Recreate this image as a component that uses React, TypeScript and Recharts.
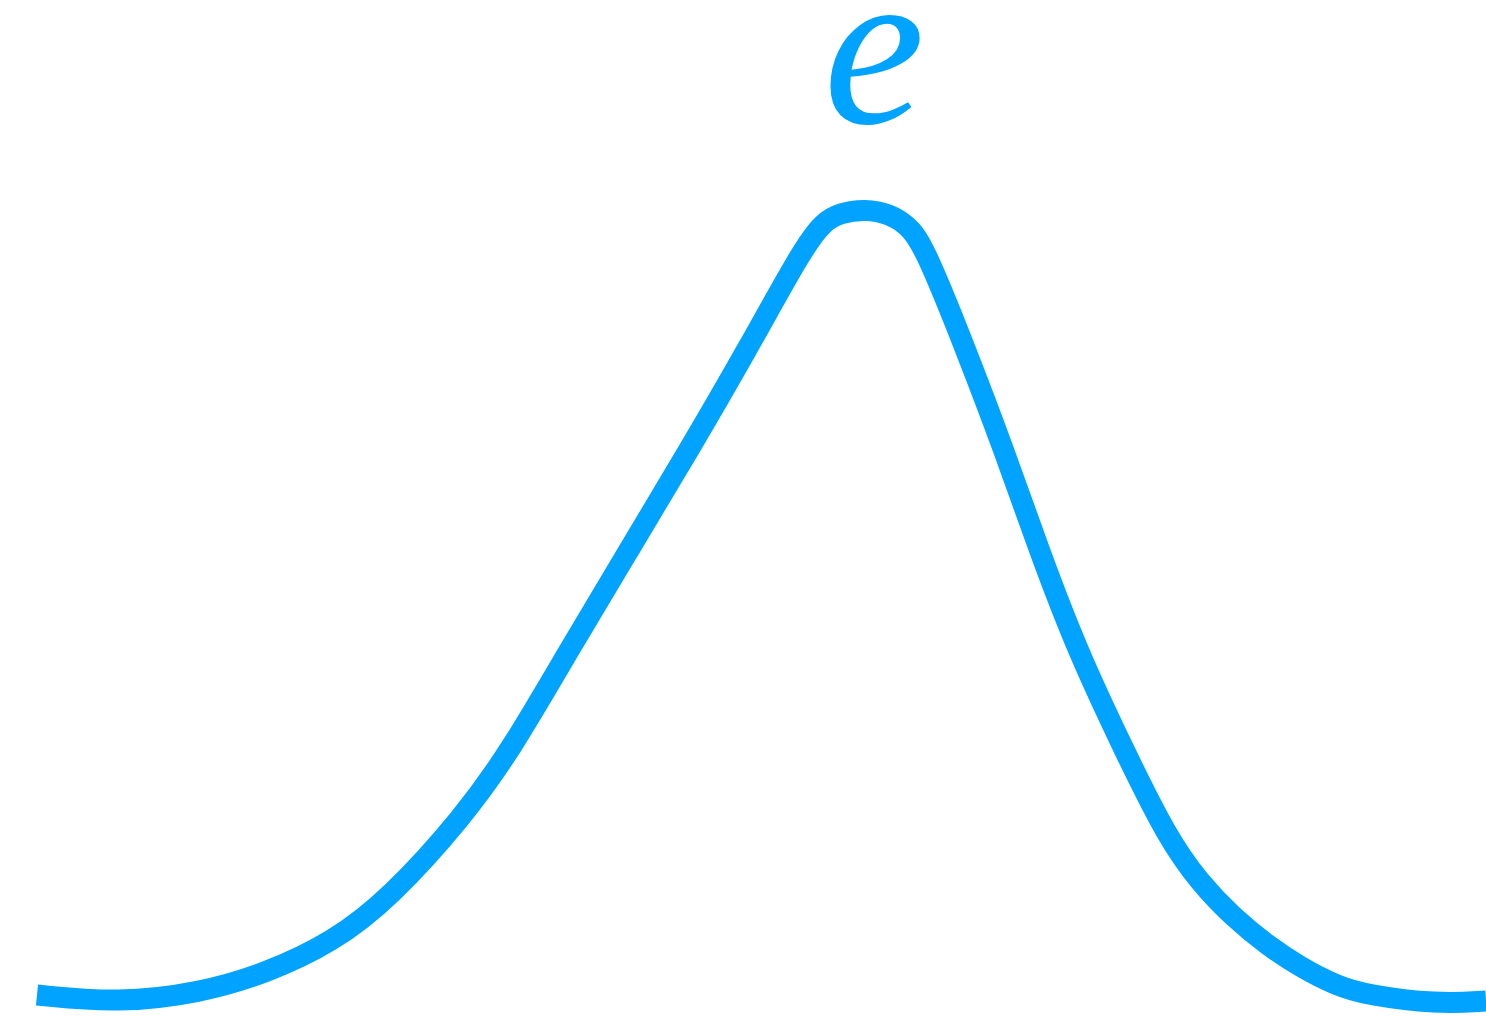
import { LineChart, Line, XAxis, YAxis } from 'recharts';

const WIDTH = 1486;
const HEIGHT = 1017;
const BLUE = '#00a3ff';

// Curve samples: horizontal position and height above the bottom edge
const xs = [37, 118, 200, 267, 333, 390, 463, 511, 569, 629, 689, 747, 802, 823, 840, 865, 890, 907, 923, 966, 1004, 1039, 1077, 1124, 1167, 1200, 1233, 1267, 1300, 1337, 1367, 1437, 1486];
const heights = [22, 14, 24, 44, 75, 119, 200, 267, 367, 467, 567, 667, 767, 795, 804, 808, 803, 792, 774, 667, 567, 467, 367, 267, 180, 134, 100, 72, 50, 31, 22, 13, 16];
const peakLabel = 'e';
const peakIndex = 15;

const data = xs.map((x, i) => ({ x, h: heights[i] }));

// Only the peak gets a marker: the italic letter above it
function PeakDot(props: any) {
  const { cx, cy, index } = props;
  if (index !== peakIndex) return <g key={`dot-${index}`} />;
  return (
    <text
      key={`dot-${index}`}
      x={cx + 9}
      y={cy - 86}
      textAnchor="middle"
      fill={BLUE}
      fontFamily="'Liberation Serif', serif"
      fontStyle="italic"
      fontSize={228}
    >
      {peakLabel}
    </text>
  );
}

export default function App() {
  return (
    <div style={{ position: 'absolute', left: 0, top: 0, background: '#fff' }}>
      <LineChart width={WIDTH} height={HEIGHT} data={data} margin={{ top: 0, right: 0, bottom: 0, left: 0 }}>
        <XAxis type="number" dataKey="x" domain={[0, WIDTH]} hide />
        <YAxis type="number" domain={[0, HEIGHT]} hide />
        <Line
          type="basis"
          dataKey="h"
          stroke={BLUE}
          strokeWidth={21}
          dot={PeakDot}
          activeDot={false}
          isAnimationActive={false}
        />
      </LineChart>
    </div>
  );
}
